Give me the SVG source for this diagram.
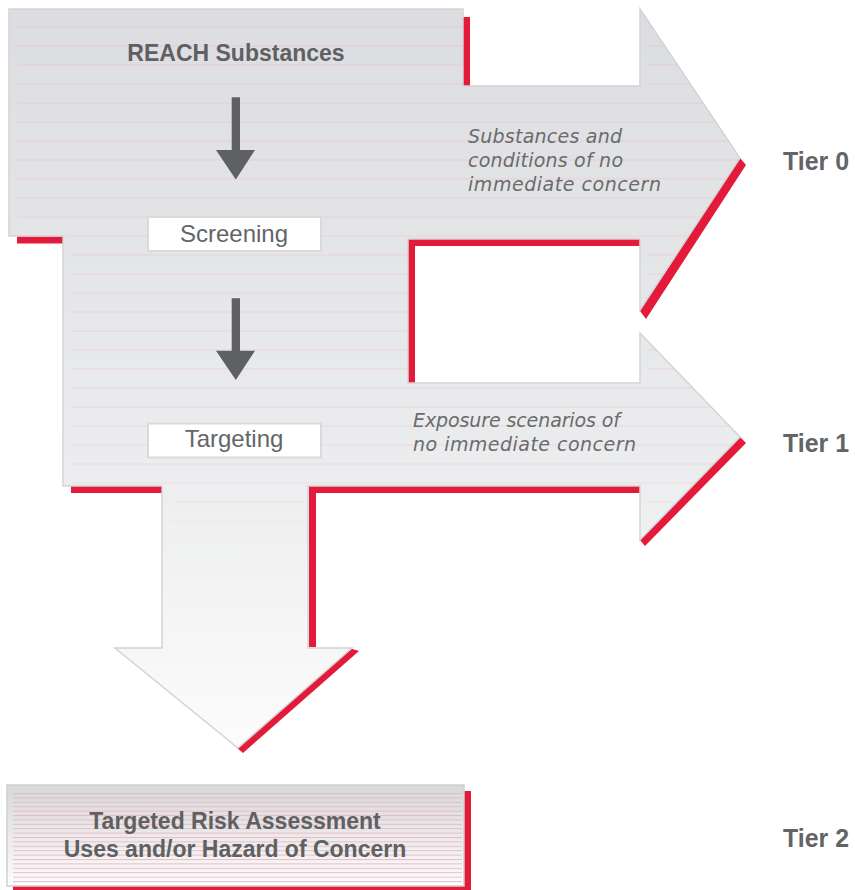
<svg xmlns="http://www.w3.org/2000/svg" xmlns:xlink="http://www.w3.org/1999/xlink" width="855" height="890" viewBox="0 0 855 890">
<style>
.red{fill:none;stroke:#e31a3a;stroke-width:7;stroke-linecap:butt}
.redf{fill:#e31a3a}
.box{fill:#ffffff;stroke:#d9dadc;stroke-width:2}
.lbl{font-family:"Liberation Sans",Arial,sans-serif;font-size:24px;fill:#646567;text-anchor:middle}
.bold{font-family:"Liberation Sans",Arial,sans-serif;font-weight:bold;font-size:23px;fill:#5f6062;text-anchor:middle}
.tier{font-family:"Liberation Sans",Arial,sans-serif;font-weight:bold;font-size:26px;fill:#636466}
.it{font-family:"DejaVu Sans","Liberation Sans",sans-serif;font-style:italic;font-size:19px;fill:#6a6b6d}
.dark{fill:#5f6062}
</style>
<defs>
<path id="mainPath" d="M9,9 H463 V86 H640 V9 L740,158 L640,310 V239 H408 V383 H640 V333 L740,437 L640,540 V486 H308 V648 H352 L238,748 L115,648 H162 V486 H63 V236 H9 Z"/>
<linearGradient id="bodyGrad" gradientUnits="userSpaceOnUse" x1="0" y1="9" x2="0" y2="750">
<stop offset="0" stop-color="#dcdde0"/>
<stop offset="0.6" stop-color="#ebeced"/>
<stop offset="1" stop-color="#fcfcfc"/>
</linearGradient>
<linearGradient id="lineGrad" gradientUnits="userSpaceOnUse" x1="0" y1="0" x2="0" y2="590">
<stop offset="0" stop-color="#e5c9cf"/>
<stop offset="0.8" stop-color="#ecd9dd"/>
<stop offset="1" stop-color="#f3f3f3" stop-opacity="0"/>
</linearGradient>
<linearGradient id="boxGrad" x1="0" y1="0" x2="0" y2="1">
<stop offset="0" stop-color="#d7d8da"/>
<stop offset="1" stop-color="#fdfdfd"/>
</linearGradient>
<pattern id="boxLines" patternUnits="userSpaceOnUse" x="0" y="793" width="10" height="4.4">
<rect x="0" y="0" width="10" height="1" fill="#eab3bd" fill-opacity="0.85"/>
</pattern>
<clipPath id="clipShape"><use xlink:href="#mainPath"/></clipPath>
<clipPath id="clipShift"><use xlink:href="#mainPath" transform="translate(8,0)"/></clipPath>
</defs>

<g id="flow-shape">
<path class="red" d="M466.5,17 V88"/>
<path class="red" d="M17,240 H64"/>
<path class="red" d="M411.5,383 V242.5 H641"/>
<polygon class="redf" points="740,158 746,165 646,319 640,311"/>
<path class="red" d="M71,489.5 H163"/>
<path class="red" d="M312.5,647 V489.5 H641"/>
<polygon class="redf" points="740,437 746,443 645,546 640,540"/>
<polygon class="redf" points="349,648 359,651 243,753 237,748"/>
<use xlink:href="#mainPath" fill="url(#bodyGrad)"/>
<g clip-path="url(#clipShape)">
<path clip-path="url(#clipShift)" fill="none" stroke="url(#lineGrad)" stroke-width="1" d="M0,27H760M0,46H760M0,65H760M0,84H760M0,103H760M0,122H760M0,141H760M0,160H760M0,179H760M0,198H760M0,217H760M0,236H760M0,255H760M0,274H760M0,293H760M0,312H760M0,331H760M0,350H760M0,369H760M0,388H760M0,407H760M0,426H760M0,445H760M0,464H760M0,483H760M0,502H760M0,521H760M0,540H760M0,559H760M0,578H760"/>
</g>
<use xlink:href="#mainPath" fill="none" stroke="#d3d4d6" stroke-width="1.5"/>
</g>

<g id="reach-substances">
<text class="bold" x="236" y="60.5">REACH Substances</text>
</g>

<g id="screening">
<rect class="box" x="148" y="217" width="173" height="34"/>
<text class="lbl" x="234" y="241.5">Screening</text>
</g>

<g id="targeting">
<rect class="box" x="148" y="423.5" width="173" height="34"/>
<text class="lbl" x="234" y="447">Targeting</text>
</g>

<g id="tier0-outcome">
<text class="it" x="468" y="142.7" textLength="154" lengthAdjust="spacing">Substances and</text>
<text class="it" x="468" y="166.7" textLength="155" lengthAdjust="spacing">conditions of no</text>
<text class="it" x="468" y="190.7" textLength="193" lengthAdjust="spacing">immediate concern</text>
</g>

<g id="tier1-outcome">
<text class="it" x="413" y="427.3" textLength="207" lengthAdjust="spacing">Exposure scenarios of</text>
<text class="it" x="413" y="450.7" textLength="223" lengthAdjust="spacing">no immediate concern</text>
</g>

<g id="targeted-risk-assessment">
<rect x="13" y="791" width="458" height="101" class="redf"/>
<rect x="7" y="785" width="457" height="101" fill="url(#boxGrad)" stroke="#cfd0d2" stroke-width="1.5"/>
<rect x="13" y="792" width="449" height="93" fill="url(#boxLines)"/>
<text class="bold" x="235" y="829.3">Targeted Risk Assessment</text>
<text class="bold" x="235" y="857.3">Uses and/or Hazard of Concern</text>
</g>

<g id="tier-labels">
<text class="tier" x="783" y="170" textLength="66" lengthAdjust="spacingAndGlyphs">Tier 0</text>
<text class="tier" x="783" y="451.5" textLength="66" lengthAdjust="spacingAndGlyphs">Tier 1</text>
<text class="tier" x="783" y="847" textLength="66" lengthAdjust="spacingAndGlyphs">Tier 2</text>
</g>

<g id="connectors">
<polygon class="dark" points="231.7,97.3 240,97.3 240,150 255,150 235.8,179.5 216,150 231.7,150"/>
<polygon class="dark" points="231.7,298.3 240,298.3 240,350.7 255,350.7 235.8,380 216,350.7 231.7,350.7"/>
</g>
</svg>
